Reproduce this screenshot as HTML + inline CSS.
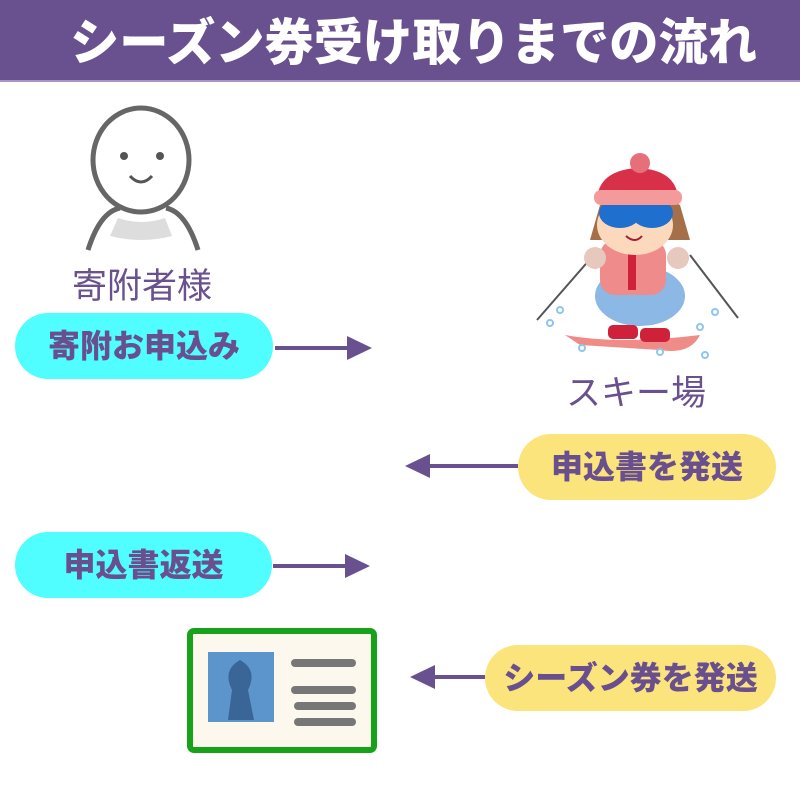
<!DOCTYPE html>
<html><head><meta charset="utf-8"><style>
body{margin:0;width:800px;height:800px;background:#fff;position:relative;overflow:hidden;font-family:"Liberation Sans","Noto Sans CJK JP",sans-serif}
.hdr{position:absolute;left:0;top:0;width:800px;height:80px;background:#69508f;border-bottom:2px solid #a595c0}
.hdr span{position:absolute;left:70px;top:3px;font-size:50px;font-weight:900;color:#fff;white-space:nowrap;transform-origin:0 0;transform:scaleX(0.985)}
.pill{position:absolute;border-radius:34px;color:#6a4f8f;font-weight:900;font-size:32px;text-align:center;line-height:66px;white-space:nowrap}
.c{background:#50fdff}.y{background:#fbe47c}
.lbl{position:absolute;color:#69508f;font-size:35px;white-space:nowrap}
</style></head><body>
<div class="hdr"><span>シーズン券受け取りまでの流れ</span></div>
<svg width="800" height="800" style="position:absolute;left:0;top:0">
<path d="M118 218 Q141 226 165 218 L172 236 Q141 244 110 236Z" fill="#ddd"/>
<ellipse cx="141" cy="160" rx="48" ry="52" fill="#fff" stroke="#666" stroke-width="5"/>
<circle cx="124" cy="156" r="4" fill="#555"/><circle cx="160" cy="156" r="4" fill="#555"/>
<path d="M130 176 Q141 188 152 176" fill="none" stroke="#555" stroke-width="3"/>
<path d="M88 250 Q100 212 120 208 M198 250 Q186 212 166 208" fill="none" stroke="#666" stroke-width="5"/>
<line x1="598" y1="250" x2="537" y2="320" stroke="#555" stroke-width="2"/>
<line x1="690" y1="255" x2="738" y2="318" stroke="#555" stroke-width="2"/>
<path d="M565 335 Q620 345 700 335 Q690 355 660 350 L580 345Z" fill="#ef8c87"/>
<ellipse cx="640" cy="296" rx="45" ry="30" fill="#8bb8e4"/>
<rect x="600" y="240" width="66" height="55" rx="15" fill="#ef8c8b"/>
<rect x="628" y="245" width="8" height="45" fill="#d0213a"/>
<circle cx="595" cy="258" r="11" fill="#e6c8bd"/><circle cx="678" cy="258" r="11" fill="#e6c8bd"/>
<rect x="608" y="325" width="30" height="14" rx="5" fill="#d0213a"/><rect x="640" y="328" width="30" height="14" rx="5" fill="#d0213a"/>
<path d="M600 205 Q635 180 680 205 L690 240 L590 240Z" fill="#a57049"/>
<ellipse cx="635" cy="225" rx="38" ry="30" fill="#fcd9bd"/>
<ellipse cx="620" cy="213" rx="21" ry="15" fill="#1f6fcf"/><ellipse cx="652" cy="213" rx="21" ry="15" fill="#1f6fcf"/>
<path d="M626 236 Q635 244 642 236" fill="none" stroke="#a02030" stroke-width="2"/>
<path d="M597 198 Q600 170 638 168 Q676 170 678 198 Z" fill="#d9304a"/>
<rect x="594" y="190" width="88" height="15" rx="7" fill="#f49a9a"/>
<circle cx="640" cy="163" r="10" fill="#e6707a"/>
<g fill="none" stroke="#8fc5ee" stroke-width="2"><circle cx="560" cy="310" r="3"/><circle cx="550" cy="323" r="3"/><circle cx="582" cy="348" r="3"/><circle cx="715" cy="312" r="3"/><circle cx="700" cy="327" r="3"/><circle cx="705" cy="355" r="3"/><circle cx="660" cy="352" r="3"/></g>
<g stroke="#69508f" stroke-width="4"><line x1="275" y1="348" x2="350" y2="348"/><line x1="518" y1="466" x2="425" y2="466"/><line x1="273" y1="566" x2="348" y2="566"/><line x1="485" y1="677" x2="430" y2="677"/></g>
<g fill="#69508f"><path d="M347 336 L372 348 L347 360Z"/><path d="M430 454 L405 466 L430 478Z"/><path d="M345 554 L370 566 L345 578Z"/><path d="M435 665 L410 677 L435 689Z"/></g>
<rect x="190" y="631" width="184" height="119" rx="4" fill="#fcf8ee" stroke="#16a31a" stroke-width="6"/>
<rect x="208" y="652" width="66" height="70" fill="#5b95cc"/>
<path d="M228 720 L232 690 Q222 670 240 660 Q258 670 248 690 L254 720Z" fill="#3a6697"/>
<g stroke="#777" stroke-width="8" stroke-linecap="round"><line x1="295" y1="663" x2="352" y2="663"/><line x1="295" y1="690" x2="352" y2="690"/><line x1="298" y1="706" x2="352" y2="706"/><line x1="298" y1="722" x2="352" y2="722"/></g>
</svg>
<div class="lbl" style="left:72px;top:258px">寄附者様</div>
<div class="lbl" style="left:566px;top:365px">スキー場</div>
<div class="pill c" style="left:15px;top:313px;width:258px">寄附お申込み</div>
<div class="pill y" style="left:518px;top:434px;width:258px">申込書を発送</div>
<div class="pill c" style="left:15px;top:532px;width:257px">申込書返送</div>
<div class="pill y" style="left:485px;top:645px;width:291px">シーズン券を発送</div>
</body></html>
